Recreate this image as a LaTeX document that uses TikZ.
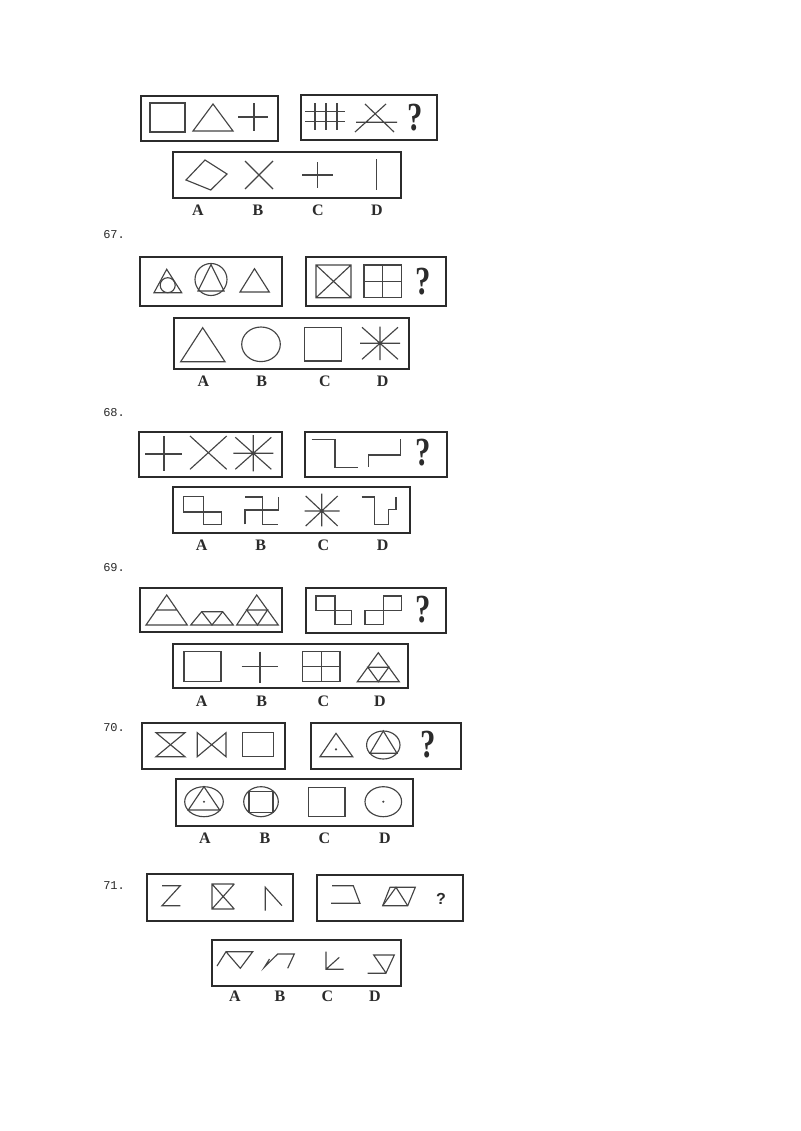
\documentclass[tikz,border=0pt]{standalone}
\usepackage{fontspec}
\setmainfont{Liberation Serif}
\setmonofont{Liberation Mono}
\newfontfamily\qsans{Liberation Sans}
\usepackage{graphicx}
\usepackage{tikz}
\usetikzlibrary{positioning}
\definecolor{pink}{HTML}{2B2B2B}
\definecolor{pline}{HTML}{444444}

\tikzset{
  frame/.style={draw=pink,line width=1.3pt},
  fig/.style={draw=pline,line width=0.85pt},
  opt/.style={font=\fontsize{12}{12}\selectfont\bfseries,text=pink,inner sep=0pt},
  qnum/.style={font=\ttfamily\fontsize{9}{9}\selectfont,text=pink,anchor=west,inner sep=0pt},
  qmark/.style={font=\fontsize{23}{23}\selectfont\bfseries,text=pink,inner sep=0pt},
  dotc/.style={fill=pline}
}

\begin{document}
\begin{tikzpicture}[x=0.75pt,y=-0.75pt]
  \useasboundingbox[fill=white] (0,0) rectangle (800,1131);

  % ---- 66 ----
  \draw[frame] (141,96) rectangle (278,141);
  \draw[frame] (301,95) rectangle (437,140);
  \draw[frame] (173,152) rectangle (401,198);
  \draw[fig] (150,103) rectangle (185,132);
  \draw[fig] (193,131) -- (213,104) -- (233,131) -- cycle;
  \draw[fig] (238,117) -- (268,117) (254,103) -- (254,131);
  \foreach \x in {315,326,337} \draw[fig] (\x,103) -- (\x,130);
  \foreach \y in {111.7,121.7} \draw[fig] (305,\y) -- (345,\y);
  \draw[fig] (365,104) -- (394,132) (355,132) -- (386,104) (356,122.3) -- (397,122.3);
  \node[qmark] (q66) at (415,118) {\scalebox{1}[1.3]{?}};
  \draw[fig] (186,180) -- (205,160) -- (227,174) -- (210.7,190) -- cycle;
  \draw[fig] (245,161) -- (273,189) (245,189) -- (273,161);
  \draw[fig] (302,175) -- (333,175) (317.3,162) -- (317.3,188);
  \draw[fig] (376.7,159) -- (376.7,190);
  \node[opt] (a66) at (198,210) {A};
  \node[opt] (b66) at (258,210) {B};
  \node[opt] (c66) at (318,210) {C};
  \node[opt] (d66) at (377,210) {D};

  % ---- 67 ----
  \node[qnum] (n67) at (103,235) {67.};
  \draw[frame] (140,257) rectangle (282,306);
  \draw[frame] (306,257) rectangle (446,306);
  \draw[frame] (174,318) rectangle (409,369);
  \draw[fig] (154,292.7) -- (166.7,269.3) -- (181.7,292.7) -- cycle;
  \draw[fig] (167.7,285.2) circle (7.5);
  \draw[fig] (211,279.5) circle (16);
  \draw[fig] (198,291) -- (211,264.5) -- (224,291) -- cycle;
  \draw[fig] (240,292) -- (254.5,268.7) -- (269.3,292) -- cycle;
  \draw[fig] (316,265) rectangle (351,297.7) (316,265) -- (351,297.7) (351,265) -- (316,297.7);
  \draw[fig] (364,265) rectangle (401.7,297.7) (382.8,265) -- (382.8,297.7) (364,281.3) -- (401.7,281.3);
  \node[qmark] (q67) at (423,282) {\scalebox{1}[1.3]{?}};
  \draw[fig] (180.7,361.7) -- (202.7,327.7) -- (225,361.7) -- cycle;
  \draw[fig] (261,344.3) ellipse (19.3 and 17.3);
  \draw[fig] (304.3,327.7) rectangle (341.7,361);
  \draw[fig] (360,343.3) -- (400,343.3) (380,326.5) -- (380,360) (362,327.3) -- (398,359.3) (362,359.3) -- (398,327.3);
  \fill[dotc] (380,343.3) circle (1.6);
  \node[opt] (a67) at (203.3,381) {A};
  \node[opt] (b67) at (261.7,381) {B};
  \node[opt] (c67) at (325,381) {C};
  \node[opt] (d67) at (382.7,381) {D};

  % ---- 68 ----
  \node[qnum] (n68) at (103,413) {68.};
  \draw[frame] (139.3,431.7) rectangle (281.7,477.3);
  \draw[frame] (305,431.7) rectangle (447.3,477.3);
  \draw[frame] (172.7,487.3) rectangle (410,533.3);
  \draw[fig] (145,454) -- (181.7,454) (164,436) -- (164,470.7);
  \draw[fig] (190,436) -- (226.7,469.3) (190,469.3) -- (226.7,436);
  \draw[fig] (233.3,453.3) -- (273.3,453.3) (253.3,435) -- (253.3,471.3) (235.3,437.3) -- (271.3,469.3) (235.3,469.3) -- (271.3,437.3);
  \fill[dotc] (253.3,453.3) circle (1.6);
  \draw[fig] (311.7,439.3) -- (335,439.3) -- (335,467.3) -- (358.3,467.3);
  \draw[fig] (368.3,466.7) -- (368.3,455) -- (400.7,455) -- (400.7,439.3);
  \node[qmark] (q68) at (423,453) {\scalebox{1}[1.3]{?}};
  \draw[fig] (183.3,496.3) rectangle (203.3,512) (203.3,512) rectangle (221.7,524.3);
  \draw[fig] (245,497) -- (262.3,497) -- (262.3,524.3) -- (278.3,524.3);
  \draw[fig] (245,524.3) -- (245,510) -- (278.3,510) -- (278.3,497);
  \draw[fig] (304.7,511) -- (339.7,511) (321.7,493.7) -- (321.7,526.3) (305.7,496) -- (337.7,526) (305.7,526) -- (337.7,496);
  \fill[dotc] (321.7,511) circle (1.6);
  \draw[fig] (361.7,497) -- (374.3,497) -- (374.3,524.3) -- (388.3,524.3) -- (388.3,509.7) -- (396,509.7) -- (396,497);
  \node[opt] (a68) at (201.7,545) {A};
  \node[opt] (b68) at (260.7,545) {B};
  \node[opt] (c68) at (323.3,545) {C};
  \node[opt] (d68) at (382.7,545) {D};

  % ---- 69 ----
  \node[qnum] (n69) at (103,568) {69.};
  \draw[frame] (140,588.3) rectangle (281.7,631.7);
  \draw[frame] (306,588.3) rectangle (446,632.7);
  \draw[frame] (173.3,644) rectangle (407.7,688.3);
  \draw[fig] (146,625) -- (166.7,595) -- (187.3,625) -- cycle (156.3,610) -- (177,610);
  \draw[fig] (190.7,625) -- (233.3,625) -- (222.7,611.7) -- (201.7,611.7) -- cycle;
  \draw[fig] (201.7,611.7) -- (212,625) -- (222.7,611.7);
  \draw[fig] (236.7,625) -- (256.7,595) -- (278.3,625) -- cycle;
  \draw[fig] (246.7,610) -- (267.5,610) -- (257.5,625) -- cycle;
  \draw[fig] (316,596) rectangle (335,610.7) (335,610.7) rectangle (351.7,624.3);
  \draw[fig] (365,610.7) rectangle (383.3,624.3) (383.3,596) rectangle (401.7,610.7);
  \node[qmark] (q69) at (423,610) {\scalebox{1}[1.3]{?}};
  \draw[fig] (184,651.7) rectangle (221,681.7);
  \draw[fig] (241.7,666.7) -- (278.3,666.7) (260,651.7) -- (260,682.7);
  \draw[fig] (302.7,651.7) rectangle (340,681.7) (321.3,651.7) -- (321.3,681.7) (302.7,666.7) -- (340,666.7);
  \draw[fig] (357.3,681.7) -- (378.3,652.7) -- (399.3,681.7) -- cycle;
  \draw[fig] (367.8,667.2) -- (388.8,667.2) -- (378.3,681.7) -- cycle;
  \node[opt] (a69) at (201.7,701.7) {A};
  \node[opt] (b69) at (261.7,701.7) {B};
  \node[opt] (c69) at (323.3,701.7) {C};
  \node[opt] (d69) at (380,701.7) {D};

  % ---- 70 ----
  \node[qnum] (n70) at (103,728) {70.};
  \draw[frame] (141.7,723.3) rectangle (285,769.3);
  \draw[frame] (310.7,723.3) rectangle (460.7,769.3);
  \draw[frame] (176,779.3) rectangle (413.3,826);
  \draw[fig] (156,732.7) -- (185,732.7) -- (156,756.7) -- (185,756.7) -- cycle;
  \draw[fig] (197.3,732.7) -- (197.3,756.7) -- (226,732.7) -- (226,756.7) -- cycle;
  \draw[fig] (242.7,732.7) rectangle (273.3,756.7);
  \draw[fig] (320,756.7) -- (336,733.3) -- (352.7,756.7) -- cycle;
  \fill[dotc] (336,749.3) circle (1.2);
  \draw[fig] (383.3,745) ellipse (16.7 and 14);
  \draw[fig] (370,753.3) -- (383.3,731) -- (397,753.3) -- cycle;
  \node[qmark] (q70) at (428,745) {\scalebox{1}[1.3]{?}};
  \draw[fig] (204,801.7) ellipse (19.3 and 15);
  \draw[fig] (188.3,810) -- (204,786.7) -- (219.7,810) -- cycle;
  \fill[dotc] (204,801.7) circle (1.2);
  \draw[fig] (261,801.7) ellipse (17.3 and 15);
  \draw[fig] (249,791.2) rectangle (273,812.2);
  \draw[fig] (308.3,787.3) rectangle (345,816.7);
  \draw[fig] (383.3,801.7) ellipse (18.3 and 15);
  \fill[dotc] (383.3,801.7) circle (1.2);
  \node[opt] (a70) at (205,838) {A};
  \node[opt] (b70) at (265,838) {B};
  \node[opt] (c70) at (324.3,838) {C};
  \node[opt] (d70) at (385,838) {D};

  % ---- 71 ----
  \node[qnum] (n71) at (103,886) {71.};
  \draw[frame] (147.3,874.3) rectangle (292.7,920.7);
  \draw[frame] (316.7,875) rectangle (462.7,920.7);
  \draw[frame] (211.7,940) rectangle (400.7,986);
  \draw[fig] (162,885.7) -- (180.3,885.7) -- (162,905.7) -- (180.3,905.7);
  \draw[fig] (234.3,884) -- (212,884) -- (212,909) -- (234.3,909) (212,884) -- (234.3,909) (234.3,884) -- (212,909);
  \draw[fig] (265.3,910.7) -- (265.3,887.3) -- (282,905.7);
  \draw[fig] (332,885.7) -- (353.3,885.7) -- (360,903.3) -- (331,903.3);
  \draw[fig] (390,887.3) -- (415.3,887.3) -- (407.7,905.7) -- (382.7,905.7) -- cycle;
  \draw[fig] (382.7,905.7) -- (396,887.3) -- (407.7,905.7);
  \node[font=\qsans\fontsize{12}{12}\selectfont\bfseries,text=pink,inner sep=0pt] (q71) at (441,899) {?};
  \draw[fig] (217,966) -- (226,951.7) -- (252.7,951.7) -- (240.3,968.3) -- (226,951.7);
  \draw[fig] (287.7,968.3) -- (294.3,954) -- (277.7,954) -- (264.3,967.3) -- (269.5,959);
  \draw[fig] (326,951.7) -- (326,969.3) -- (343.7,969.3) (326,969.3) -- (339.3,957.3);
  \draw[fig] (373.7,955) -- (394.3,955) -- (386,973) -- cycle (367.7,973.3) -- (386,973.3);
  \node[opt] (a71) at (235,996) {A};
  \node[opt] (b71) at (280,996) {B};
  \node[opt] (c71) at (327.3,996) {C};
  \node[opt] (d71) at (375,996) {D};
\end{tikzpicture}
\end{document}
